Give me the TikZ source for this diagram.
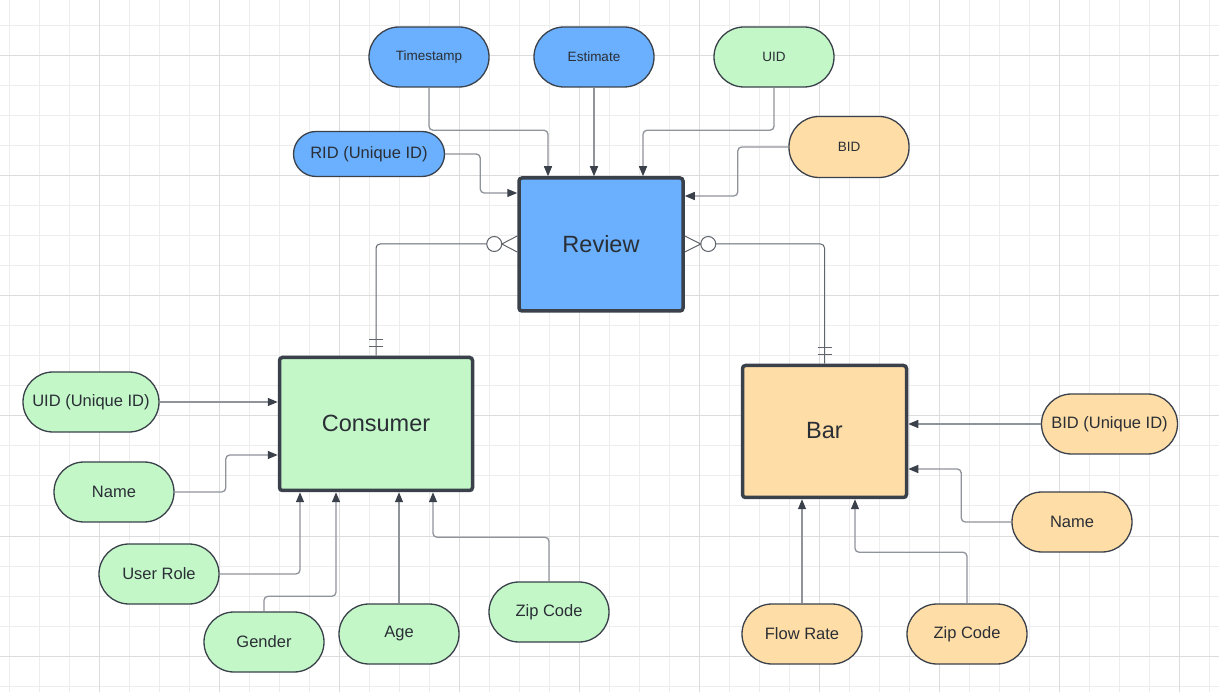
\documentclass[tikz,border=0pt]{standalone}
\usepackage{fontspec}
\setmainfont{Liberation Sans}
\usetikzlibrary{arrows.meta,calc}
\definecolor{gridminor}{HTML}{EDEDED}
\definecolor{gridmajor}{HTML}{DCDCDC}
\definecolor{ink}{HTML}{3A414A}
\definecolor{txt}{HTML}{2A2E35}
\definecolor{wire}{HTML}{8F939A}
\definecolor{relwire}{HTML}{60656C}
\definecolor{revfill}{HTML}{6AB0FF}
\definecolor{confill}{HTML}{C3F7C8}
\definecolor{barfill}{HTML}{FFDDA6}
\begin{document}
\begin{tikzpicture}[x=1pt,y=-1pt,
  entity/.style={draw=ink, line width=3.5pt, rounded corners=3pt, text=txt,
    font=\fontsize{23.5}{28}\selectfont},
  attr/.style={draw=ink, line width=1.3pt, rounded corners=30pt, minimum width=120pt,
    minimum height=60pt, inner sep=0pt, text=txt, font=\fontsize{16.5}{20}\selectfont},
  small/.style={font=\fontsize{13.5}{16}\selectfont},
  link/.style={draw=wire, line width=1.3pt, rounded corners=4pt,
    -{Triangle[length=10pt,width=8pt,color=ink]}},
  rel/.style={draw=relwire, line width=1pt, rounded corners=4pt},
  ring/.style={draw=relwire, line width=1pt, fill=white},
]
% canvas and grid
\fill[white] (0,0) rectangle (1219,692);
\useasboundingbox (0,0) rectangle (1219,692);
\foreach \x in {9.5,39.5,...,1219} \draw[gridminor, line width=1pt] (\x,0) -- (\x,692);
\foreach \y in {26,56,...,692} \draw[gridminor, line width=1pt] (0,\y) -- (1219,\y);
\foreach \x in {99.5,219.5,...,1219} \draw[gridmajor, line width=1pt] (\x,0) -- (\x,692);
\foreach \y in {56,176,...,692} \draw[gridmajor, line width=1pt] (0,\y) -- (1219,\y);

% entities
\node[entity, fill=revfill, minimum width=164pt, minimum height=133pt] (rev) at (601,244.5) {\raisebox{2pt}{Review}};
\node[entity, fill=confill, minimum width=193pt, minimum height=133pt] (con) at (376,424) {\raisebox{1pt}{Consumer}};
\node[entity, fill=barfill, minimum width=164pt, minimum height=132pt] (bar) at (824.5,431.5) {\raisebox{2pt}{Bar}};

% review attributes
\node[attr, small, fill=revfill] (ts) at (429,57) {\raisebox{1pt}{Timestamp}};
\node[attr, small, fill=revfill] (est) at (594,57) {\raisebox{1pt}{Estimate}};
\node[attr, small, fill=confill] (uidr) at (774,57) {\raisebox{1pt}{UID}};
\node[attr, fill=revfill, minimum width=151pt, minimum height=45pt, rounded corners=22.5pt] (rid) at (369,154) {RID (Unique ID)};
\node[attr, small, fill=barfill, minimum height=61pt] (bidr) at (849,147) {\raisebox{1pt}{BID}};

% consumer attributes
\node[attr, fill=confill, minimum width=136pt] (uid) at (91,402) {UID (Unique ID)};
\node[attr, fill=confill] (cname) at (114,492) {Name};
\node[attr, fill=confill] (role) at (159,574) {User Role};
\node[attr, fill=confill] (gender) at (264,642) {Gender};
\node[attr, fill=confill] (age) at (399,634) {Age};
\node[attr, fill=confill] (czip) at (549,612) {Zip Code};

% bar attributes
\node[attr, fill=barfill, minimum width=136pt] (bid) at (1109.5,424) {BID (Unique ID)};
\node[attr, fill=barfill] (bname) at (1072,522) {Name};
\node[attr, fill=barfill] (flow) at (802,634) {Flow Rate};
\node[attr, fill=barfill] (bzip) at (967,634) {Zip Code};

% attribute links into Review
\draw[link] (ts.south) |- ($(rev.north)+(-53,-46)$) -- ($(rev.north)+(-53,0)$);
\draw[link] (est.south) -- (est.south |- rev.north);
\draw[link] (uidr.south) |- ($(rev.north)+(42,-46)$) -- ($(rev.north)+(42,0)$);
\draw[link] (rid.east) -| ($(rev.west)+(-37,-51.5)$) -- ($(rev.west)+(0,-51.5)$);
\draw[link] (bidr.west) -| ($(rev.east)+(53,-48.5)$) -- ($(rev.east)+(0,-48.5)$);

% attribute links into Consumer
\draw[link] (uid.east) -- (uid.east -| con.west);
\draw[link] (cname.east) -| ($(con.west)+(-52,31)$) -- ($(con.west)+(0,31)$);
\draw[link] (role.east) -| ($(con.south)+(-76,0)$);
\draw[link] (gender.north) |- ($(con.south)+(-40,104)$) -- ($(con.south)+(-40,0)$);
\draw[link] (age.north) -- (age.north |- con.south);
\draw[link] (czip.north) |- ($(con.south)+(57,45)$) -- ($(con.south)+(57,0)$);

% attribute links into Bar
\draw[link] (bid.west) -- (bid.west -| bar.east);
\draw[link] (bname.west) -| ($(bar.east)+(53,37.5)$) -- ($(bar.east)+(0,37.5)$);
\draw[link] (flow.north) -- (flow.north |- bar.south);
\draw[link] (bzip.north) |- ($(bar.south)+(30.5,53)$) -- ($(bar.south)+(30.5,0)$);

% Review (zero or many) -- Consumer (exactly one)
\draw[rel] ($(rev.west)+(-30.5,-0.5)$) -| (con.north);
\draw[ring] ($(rev.west)+(-23,-0.5)$) circle (7.5);
\draw[relwire, line width=1pt] ($(rev.west)+(0,-8.5)$) -- ($(rev.west)+(-15.5,-0.5)$) -- ($(rev.west)+(0,7.5)$);
\draw[relwire, line width=1pt] ($(con.north)+(-7,-16.5)$) -- ($(con.north)+(7,-16.5)$);
\draw[relwire, line width=1pt] ($(con.north)+(-7,-9)$) -- ($(con.north)+(7,-9)$);

% Review (zero or many) -- Bar (exactly one)
\draw[rel] ($(rev.east)+(31,-0.5)$) -| (bar.north);
\draw[ring] ($(rev.east)+(23.5,-0.5)$) circle (7.5);
\draw[relwire, line width=1pt] ($(rev.east)+(0,-8.5)$) -- ($(rev.east)+(16,-0.5)$) -- ($(rev.east)+(0,7.5)$);
\draw[relwire, line width=1pt] ($(bar.north)+(-7,-16.5)$) -- ($(bar.north)+(7,-16.5)$);
\draw[relwire, line width=1pt] ($(bar.north)+(-7,-9)$) -- ($(bar.north)+(7,-9)$);
\end{tikzpicture}
\end{document}
